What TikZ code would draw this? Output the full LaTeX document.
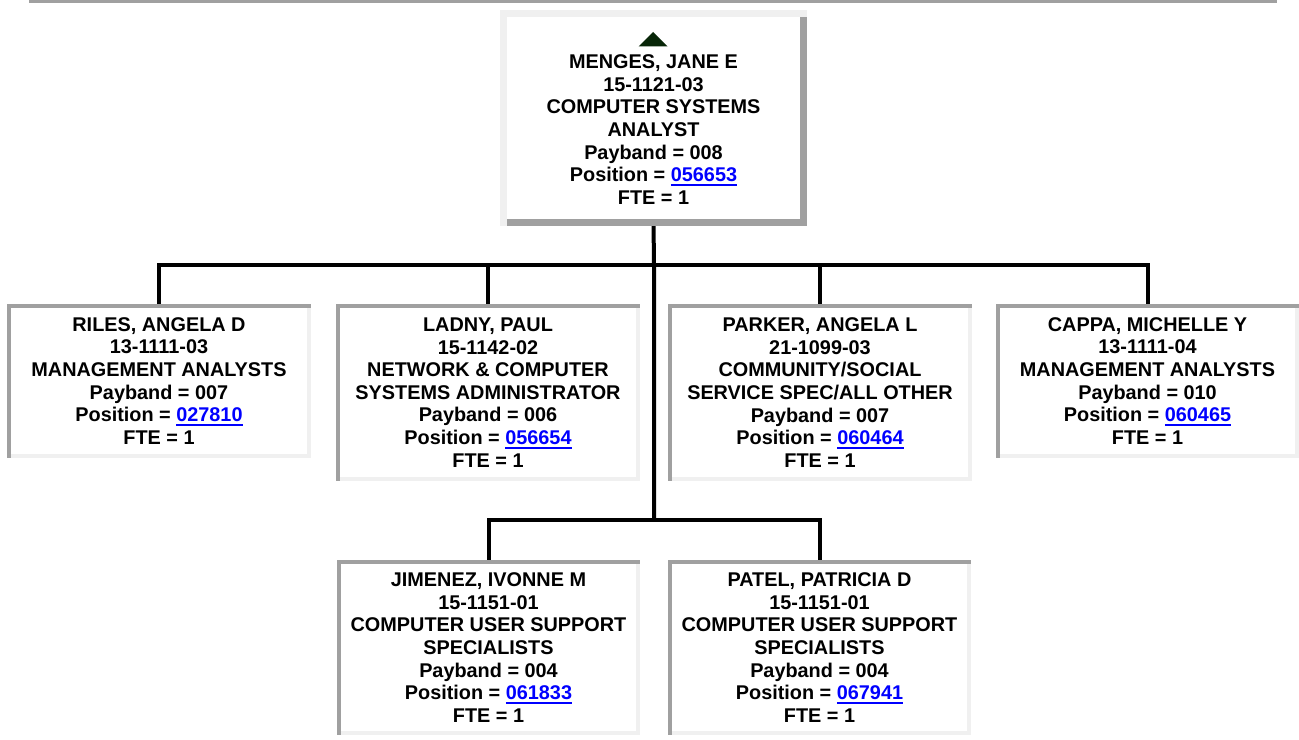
\documentclass[tikz,border=0pt]{standalone}
\usepackage{fontspec}
\setmainfont{Liberation Sans}
\usepackage{tikz}
\definecolor{bandDark}{RGB}{160,160,160}
\definecolor{bandLight}{RGB}{240,240,240}
\definecolor{linkBlue}{RGB}{0,0,255}
\definecolor{markGreen}{RGB}{8,38,8}
\newcommand{\poslink}[1]{\textcolor{linkBlue}{\setbox0\hbox{#1}\rlap{\rule[-2.2pt]{\wd0}{1.1pt}}\box0}}

\begin{document}
\begin{tikzpicture}[x=0.02cm, y=-0.02cm,
    person/.style={align=center, inner sep=0pt, outer sep=0pt, fill=white,
      minimum width=6cm, font=\bfseries\fontsize{11.3}{12.9}\selectfont},
    wire/.style={line width=0.08cm},
    lowband/.style={line width=0.08cm, line cap=rect, bandLight},
    highband/.style={line width=0.08cm, line cap=rect, bandDark}]
    \useasboundingbox (0,0) rectangle (1299,740);
    \fill[bandDark] (29,0) rectangle (1277,3.5);

    % the boxes
    \node[person, minimum height=4.18cm] (menges) at (653.5,118)
      {\rule{0pt}{8pt}\\ MENGES, JANE E\\ 15-1121-03\\ COMPUTER SYSTEMS\\ ANALYST\\
       Payband = 008\\ Position = \poslink{056653}\\ FTE = 1};
    \node[person, minimum height=3cm] (riles) at (159,381)
      {RILES, ANGELA D\\ 13-1111-03\\ MANAGEMENT ANALYSTS\\
       Payband = 007\\ Position = \poslink{027810}\\ FTE = 1};
    \node[person, minimum height=3.46cm] (ladny) at (488,392.5)
      {LADNY, PAUL\\ 15-1142-02\\ NETWORK \& COMPUTER\\ SYSTEMS ADMINISTRATOR\\
       Payband = 006\\ Position = \poslink{056654}\\ FTE = 1};
    \node[person, minimum height=3.46cm] (parker) at (820,392.5)
      {PARKER, ANGELA L\\ 21-1099-03\\ COMMUNITY/SOCIAL\\ SERVICE SPEC/ALL OTHER\\
       Payband = 007\\ Position = \poslink{060464}\\ FTE = 1};
    \node[person, minimum height=3cm] (cappa) at (1147.5,381)
      {CAPPA, MICHELLE Y\\ 13-1111-04\\ MANAGEMENT ANALYSTS\\
       Payband = 010\\ Position = \poslink{060465}\\ FTE = 1};
    \node[person, minimum height=3.42cm] (jimenez) at (488.5,647.5)
      {JIMENEZ, IVONNE M\\ 15-1151-01\\ COMPUTER USER SUPPORT\\ SPECIALISTS\\
       Payband = 004\\ Position = \poslink{061833}\\ FTE = 1};
    \node[person, minimum height=3.42cm] (patel) at (819.5,647.5)
      {PATEL, PATRICIA D\\ 15-1151-01\\ COMPUTER USER SUPPORT\\ SPECIALISTS\\
       Payband = 004\\ Position = \poslink{067941}\\ FTE = 1};

    % reporting lines
    \coordinate (upbus) at (654,264.5);
    \coordinate (lowbus) at (654,520);
    \draw[wire] (menges.south) -- (upbus) -- (lowbus);
    \draw[wire] (riles.north) |- (upbus) -| (cappa.north);
    \draw[wire] (ladny.north) -- (ladny.north |- upbus);
    \draw[wire] (parker.north) -- (parker.north |- upbus);
    \draw[wire] (jimenez.north) |- (lowbus) -| (patel.north);

    % borders
    \foreach \n in {riles, ladny, parker, cappa, jimenez, patel} {
      \draw[lowband] (\n.north east) -- (\n.south east) -- (\n.south west);
      \draw[highband] (\n.south west) -- (\n.north west) -- (\n.north east);
    }
    \draw[highband, line width=0.14cm] (menges.north east) -- (menges.south east) -- (menges.south west);
    \draw[lowband, line width=0.14cm] (menges.south west) -- (menges.north west) -- (menges.north east);
    \fill[markGreen] (638.5,46.5) -- (653,32) -- (667.5,46.5) -- cycle;
\end{tikzpicture}
\end{document}
